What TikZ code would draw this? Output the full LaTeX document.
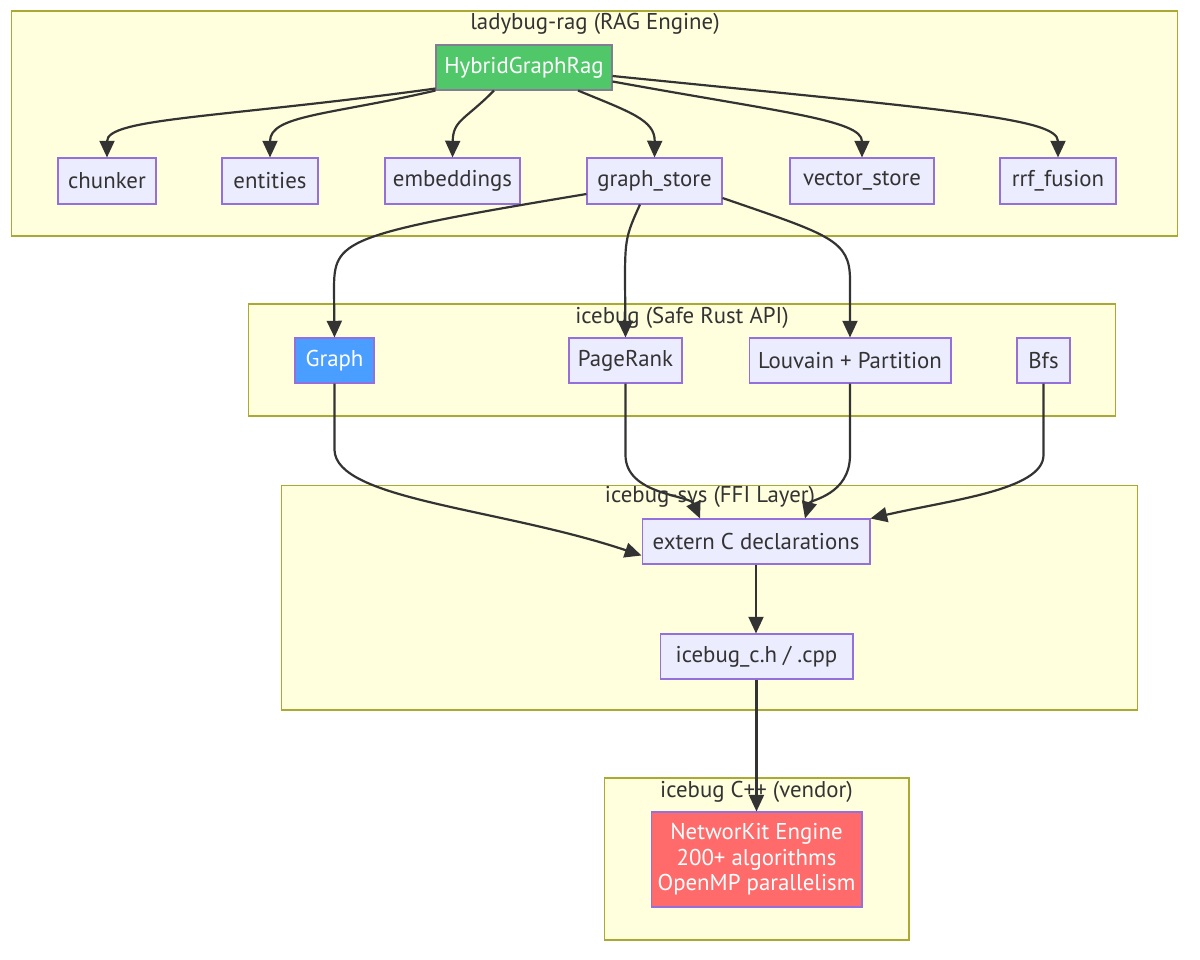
\documentclass[tikz,border=0pt]{standalone}
\usepackage{fontspec}
\setmainfont{PT Sans}
\usetikzlibrary{arrows.meta}
\definecolor{clfill}{HTML}{FFFFDE}
\definecolor{clborder}{HTML}{AAAA33}
\definecolor{nfill}{HTML}{ECECFF}
\definecolor{nborder}{HTML}{9370DB}
\definecolor{edgec}{HTML}{333333}
\definecolor{txt}{HTML}{333333}
\definecolor{hgreen}{HTML}{50C86A}
\definecolor{hblue}{HTML}{4A9EFF}
\definecolor{hred}{HTML}{FF6B6B}
\tikzset{
  cluster/.style={draw=clborder, fill=clfill, line width=0.6pt, inner sep=0pt},
  ctitle/.style={text=txt, font=\fontsize{13}{15}\selectfont, inner sep=0pt},
  box/.style={draw=nborder, fill=nfill, line width=0.6pt, inner sep=0pt, text=txt,
    font=\fontsize{13}{15}\selectfont, minimum height=0.92cm, align=center},
  greenbox/.style={box, fill=hgreen, draw=gray!80!nborder, text=white},
  bluebox/.style={box, fill=hblue, text=white},
  redbox/.style={box, fill=hred, text=white, font=\fontsize{13}{14.5}\selectfont},
  conn/.style={draw=edgec, line width=1.25pt, -{Triangle[length=9.5pt,width=8.5pt]}},
}
\begin{document}
\begin{tikzpicture}[x=0.02cm, y=-0.02cm]
\useasboundingbox (0,0) rectangle (1200,960);
% clusters
\node[cluster, minimum width=23.34cm, minimum height=4.5cm] (c1) at (594.5,123.5) {};
\node[ctitle] (t1) at (595,24) {ladybug-rag (RAG Engine)};
\node[cluster, minimum width=17.36cm, minimum height=2.24cm] (c2) at (682,360) {};
\node[ctitle] (t2) at (682,318) {icebug (Safe Rust API)};
\node[cluster, minimum width=17.14cm, minimum height=4.5cm] (c3) at (709.5,597.5) {};
\node[ctitle] (t3) at (710,497) {icebug-sys (FFI Layer)};
\node[cluster, minimum width=6.1cm, minimum height=3.24cm] (c4) at (756.5,859) {};
\node[ctitle] (t4) at (756.5,792) {icebug C++ (vendor)};
% nodes
\node[greenbox, minimum width=3.52cm, minimum height=0.9cm] (hgr) at (524,67.5) {HybridGraphRag};
\node[box, minimum width=1.96cm] (chunker) at (107,181) {chunker};
\node[box, minimum width=1.92cm] (entities) at (270,181) {entities};
\node[box, minimum width=2.70cm] (emb) at (452.5,181) {embeddings};
\node[box, minimum width=2.70cm] (gs) at (654.5,181) {graph\_store};
\node[box, minimum width=2.88cm] (vs) at (862,181) {vector\_store};
\node[box, minimum width=2.32cm] (rrf) at (1058,181) {rrf\_fusion};
\node[bluebox, minimum width=1.58cm, minimum height=0.9cm] (graph) at (334.5,360.5) {Graph};
\node[box, minimum width=2.26cm, minimum height=0.9cm] (pr) at (625.5,360.5) {PageRank};
\node[box, minimum width=4.04cm, minimum height=0.9cm] (lv) at (850,360.5) {Louvain + Partition};
\node[box, minimum width=1.06cm, minimum height=0.9cm] (bfs) at (1043.5,360.5) {Bfs};
\node[box, minimum width=4.56cm, minimum height=0.9cm] (ext) at (756,541.5) {extern C declarations};
\node[box, minimum width=3.86cm, minimum height=0.9cm] (icc) at (756.5,656.5) {icebug\_c.h / .cpp};
\node[redbox, minimum width=4.22cm, minimum height=1.9cm] (nk) at (756.5,859.5) {NetworKit Engine\\200+ algorithms\\OpenMP parallelism};
% edges
\draw[conn] (hgr.south west) ++(0,-2) .. controls (220,118) and (107,118) .. (chunker.north);
\draw[conn] (hgr.south west) .. controls (330,115) and (270,115) .. (entities.north);
\draw[conn] ([xshift=-30*0.02cm]hgr.south) .. controls (465,120) and (453,120) .. (emb.north);
\draw[conn] ([xshift=54*0.02cm]hgr.south) .. controls (630,112) and (655,120) .. (gs.north);
\draw[conn] ([yshift=-14*0.02cm]hgr.east) .. controls (780,112) and (862,120) .. (vs.north);
\draw[conn] ([yshift=-8.5*0.02cm]hgr.east) .. controls (950,110) and (1058,118) .. (rrf.north);
\draw[conn] ([yshift=-13*0.02cm]gs.west) .. controls (340,235) and (334,240) .. (334,290) -- (graph.north);
\draw[conn] ([xshift=-14.5*0.02cm]gs.south) .. controls (626,235) and (625,240) .. (625,280) -- (pr.north);
\draw[conn] ([yshift=-17*0.02cm]gs.east) .. controls (830,235) and (850,240) .. (850,280) -- (lv.north);
\draw[conn] (graph.south) -- (334.5,450) .. controls (336,500) and (500,508) .. ([yshift=-14*0.02cm]ext.west);
\draw[conn] (pr.south) -- (625.5,455) .. controls (625.5,495) and (690,495) .. ([xshift=-56*0.02cm]ext.north);
\draw[conn] (lv.south) -- (850,455) .. controls (850,495) and (810,500) .. ([xshift=49*0.02cm]ext.north);
\draw[conn] (bfs.south) -- (1043.5,455) .. controls (1043.5,490) and (950,500) .. (ext.north east);
\draw[conn] (ext.south) -- (ext.south |- icc.north);
\draw[conn] (icc.south) -- (nk.north);
\end{tikzpicture}
\end{document}
